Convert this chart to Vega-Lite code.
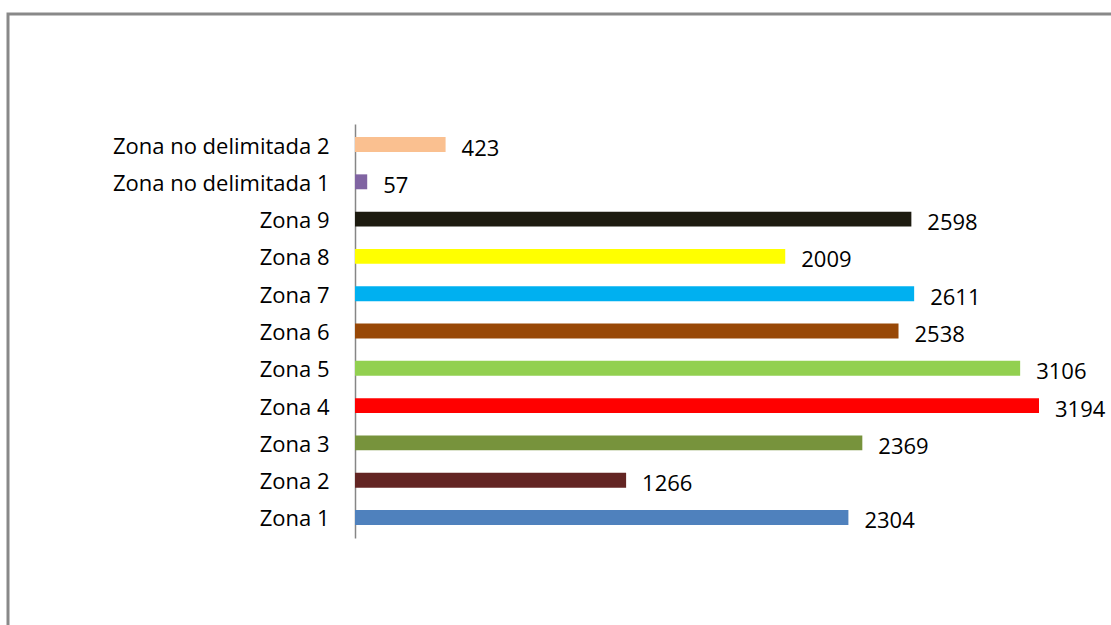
{
  "$schema": "https://vega.github.io/schema/vega-lite/v6.json",
  "autosize": {"type": "none"},
  "width": 1108,
  "height": 616,
  "padding": {"left": 8, "top": 14, "right": 0, "bottom": 0},
  "background": "white",
  "config": {
    "view": {"stroke": "#898989", "strokeWidth": 3},
    "font": "Open Sans"
  },
  "data": {
    "values": [
      {"zona": "Zona no delimitada 2", "valor": 423, "color": "#FAC090"},
      {"zona": "Zona no delimitada 1", "valor": 57, "color": "#8064A2"},
      {"zona": "Zona 9", "valor": 2598, "color": "#1D1B10"},
      {"zona": "Zona 8", "valor": 2009, "color": "#FFFF00"},
      {"zona": "Zona 7", "valor": 2611, "color": "#00B0F0"},
      {"zona": "Zona 6", "valor": 2538, "color": "#984807"},
      {"zona": "Zona 5", "valor": 3106, "color": "#92D050"},
      {"zona": "Zona 4", "valor": 3194, "color": "#FF0000"},
      {"zona": "Zona 3", "valor": 2369, "color": "#77933C"},
      {"zona": "Zona 2", "valor": 1266, "color": "#632523"},
      {"zona": "Zona 1", "valor": 2304, "color": "#4F81BD"}
    ]
  },
  "encoding": {
    "y": {
      "field": "zona",
      "type": "nominal",
      "sort": null,
      "scale": {"range": [110, 524], "paddingInner": 0.6, "paddingOuter": 0.35},
      "axis": {
        "title": null,
        "offset": -347,
        "ticks": false,
        "domainColor": "#868686",
        "domainWidth": 1.5,
        "labelPadding": 26,
        "labelFontSize": 22,
        "labelLimit": 0,
        "labelColor": "#000000",
        "labelFont": "Open Sans",
        "labelBaseline": "middle",
        "labelOffset": 2,
        "grid": false
      }
    },
    "x": {
      "field": "valor",
      "type": "quantitative",
      "scale": {"domain": [0, 3194], "range": [347, 1031], "nice": false},
      "axis": null
    }
  },
  "layer": [
    {
      "mark": {"type": "bar"},
      "encoding": {
        "color": {"field": "color", "type": "nominal", "scale": null, "legend": null}
      }
    },
    {
      "mark": {"type": "text", "align": "left", "baseline": "middle", "dx": 16, "dy": 4, "fontSize": 22, "color": "#000000"},
      "encoding": {
        "text": {"field": "valor", "type": "quantitative", "format": "d"}
      }
    }
  ]
}
